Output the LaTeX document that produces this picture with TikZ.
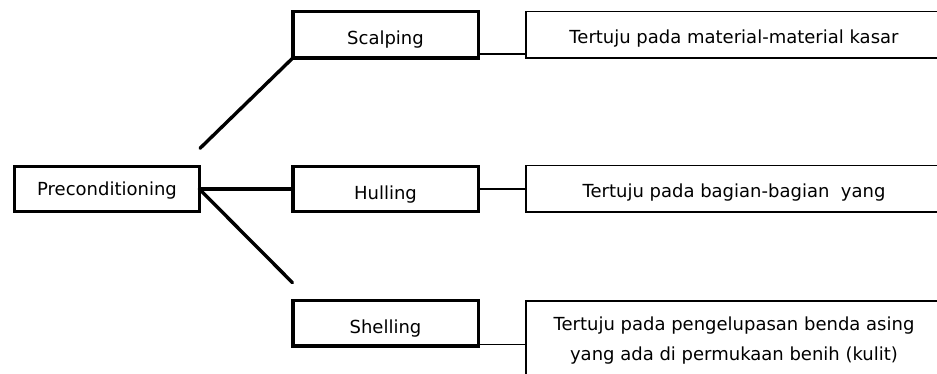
\documentclass[tikz,border=0pt]{standalone}
\usepackage{fontspec}
\setmainfont{DejaVu Sans}
\begin{document}
\begin{tikzpicture}[x=1pt,y=-1pt,
  every node/.style={font=\fontsize{18}{30}\selectfont, inner sep=0pt, outer sep=0pt},
  thickbox/.style={draw, line width=3.6pt, minimum width=185.6pt},
  thinbox/.style={draw, line width=1.6pt, minimum width=416pt},
  thickline/.style={line width=3.4pt, line cap=round},
  thinline/.style={line width=1.6pt}]
\useasboundingbox (0,0) rectangle (937,374);
\clip (0,0) rectangle (937,374);
% left column
\node[thickbox, minimum width=185pt, minimum height=45pt, text height=12pt, text depth=0pt] (pre) at (107,189.2) {Preconditioning};
\node[thickbox, minimum height=46.7pt, text height=20pt, text depth=0pt] (scal) at (385.5,34.7) {Scalping};
\node[thickbox, minimum height=45pt, text height=20pt, text depth=0pt] (hul) at (385.5,189.2) {Hulling};
\node[thickbox, minimum height=45.3pt, text height=20pt, text depth=0pt] (shel) at (385.5,323.3) {Shelling};
% right column
\node[thinbox, minimum height=46.7pt, text height=17pt, text depth=0pt] (tr1) at (734,34.7) {Tertuju pada material-material kasar};
\node[thinbox, minimum height=46.3pt, text height=17pt, text depth=0pt] (tr2) at (734,188.8) {Tertuju pada bagian-bagian\ \ yang};
\node[thinbox, minimum height=80pt, align=center] (tr3) at (734,341) {Tertuju pada pengelupasan benda asing\\yang ada di permukaan benih (kulit)};
% free ends
\coordinate (sfree) at (200,148.3);
\coordinate (shfree) at (292.5,282.7);
% thick connectors
\draw[thickline] (sfree) -- (scal.south west);
\draw[thickline] (pre.east) -- (hul.west);
\draw[thickline] (pre.east) -- (shfree);
% thin connectors
\draw[thinline] (scal.east |- 0,54) -- (tr1.west |- 0,54);
\draw[thinline] (hul.east |- 0,188.8) -- (tr2.west |- 0,188.8);
\draw[thinline] (shel.east |- 0,344.3) -- (tr3.west |- 0,344.3);
\end{tikzpicture}
\end{document}
